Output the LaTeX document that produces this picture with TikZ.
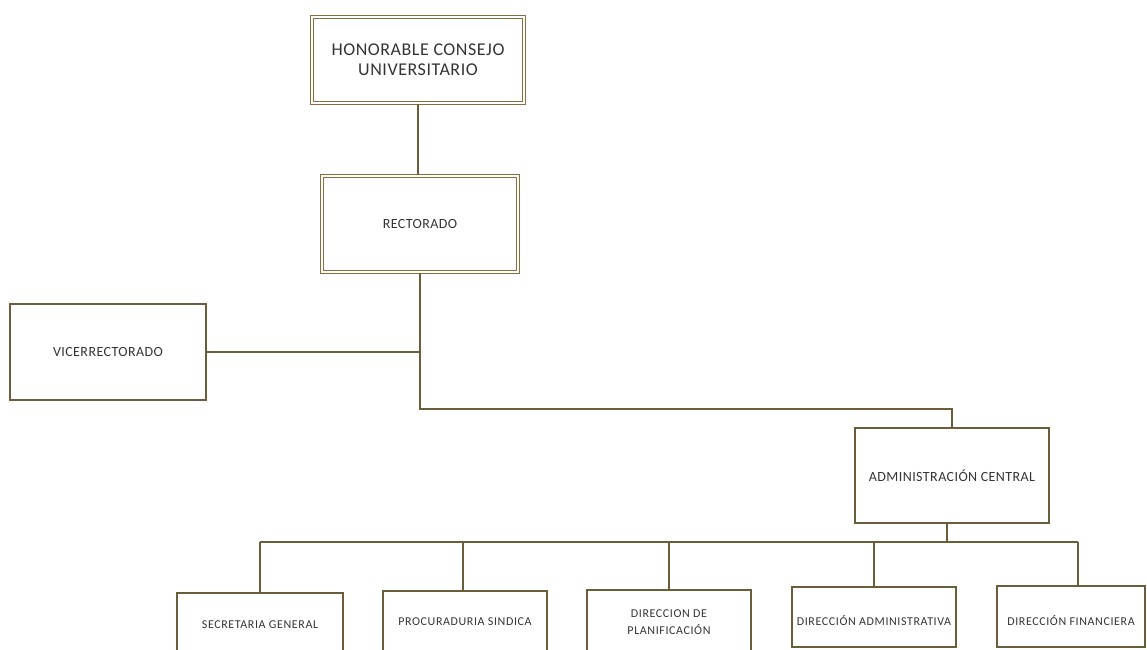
\documentclass[tikz,border=0pt]{standalone}
\usepackage{fontspec}
\setmainfont{Carlito}
\definecolor{linec}{HTML}{6B5C3A}
\definecolor{dblc}{HTML}{8C6E3E}
\definecolor{txtc}{HTML}{353535}
\tikzset{
  x=1pt, y=-1pt,
  conn/.style={draw=linec, line width=1.6pt},
  plainbox/.style={draw=linec, line width=1.6pt, rectangle, fill=white, text=txtc, align=center, inner sep=0pt},
  dblbox/.style={draw=dblc, line width=1.3pt, double=white, double distance=1.5pt, rectangle, fill=white, text=txtc, align=center, inner sep=0pt},
  bigtxt/.style={font=\fontsize{18}{20}\selectfont\addfontfeature{LetterSpace=3}},
  midtxt/.style={font=\fontsize{14}{16}\selectfont\addfontfeature{LetterSpace=3}},
  smalltxt/.style={font=\fontsize{12}{17}\selectfont\addfontfeature{LetterSpace=5}},
}
\begin{document}
\begin{tikzpicture}
\useasboundingbox (0,0) rectangle (1147,649);
\clip (0,0) rectangle (1147,649);
\fill[white] (0,0) rectangle (1147,649);

% top boxes
\node[dblbox, minimum width=212pt, minimum height=86pt, bigtxt] (hon) at (418,60) {HONORABLE CONSEJO\\UNIVERSITARIO};
\node[dblbox, minimum width=196pt, minimum height=96pt, midtxt] (rect) at (420,224) {RECTORADO};
\node[plainbox, minimum width=196pt, minimum height=96pt, midtxt] (vice) at (108,352) {VICERRECTORADO};
\node[plainbox, minimum width=194pt, minimum height=95pt, midtxt] (adc) at (952,475.5) {ADMINISTRACIÓN CENTRAL};

% bottom boxes (cut by the page edge)
\node[plainbox, minimum width=166pt, minimum height=64pt, smalltxt] (sec) at (260,625) {SECRETARIA GENERAL};
\node[plainbox, minimum width=164pt, minimum height=62pt, smalltxt] (proc) at (465,622) {PROCURADURIA SINDICA};
\node[plainbox, minimum width=164pt, minimum height=64pt, smalltxt] (plan) at (669,622) {DIRECCION DE\\PLANIFICACIÓN};
\node[plainbox, minimum width=164pt, minimum height=60pt, smalltxt, text height=17.5pt, text depth=0pt] (adm) at (874,617) {DIRECCIÓN ADMINISTRATIVA};
\node[plainbox, minimum width=148pt, minimum height=61pt, smalltxt, text height=18.5pt, text depth=0pt] (fin) at (1071,616.5) {DIRECCIÓN FINANCIERA};

% connectors
\coordinate (jh) at (418,0);
\coordinate (jv) at (420,352);
\coordinate (jr) at (420,409);
\coordinate (bus) at (947,542);
\coordinate (bl) at (260,542);
\coordinate (bp) at (463,542);
\coordinate (bf) at (1078,542);
\draw[conn] (jh |- hon.south) -- (jh |- rect.north);
\draw[conn] (rect.south -| jr) -- (jr) -- (jr -| adc.north) -- (adc.north);
\draw[conn] (vice.east) -- (jv);
\draw[conn] (adc.south -| bus) -- (bus);
\draw[conn] (bl) -- (bf);
\draw[conn] (bl) -- (sec.north);
\draw[conn] (bp) -- (bp |- proc.north);
\draw[conn] (plan.north |- bus) -- (plan.north);
\draw[conn] (adm.north |- bus) -- (adm.north);
\draw[conn] (bf) -- (bf |- fin.north);
\end{tikzpicture}
\end{document}
